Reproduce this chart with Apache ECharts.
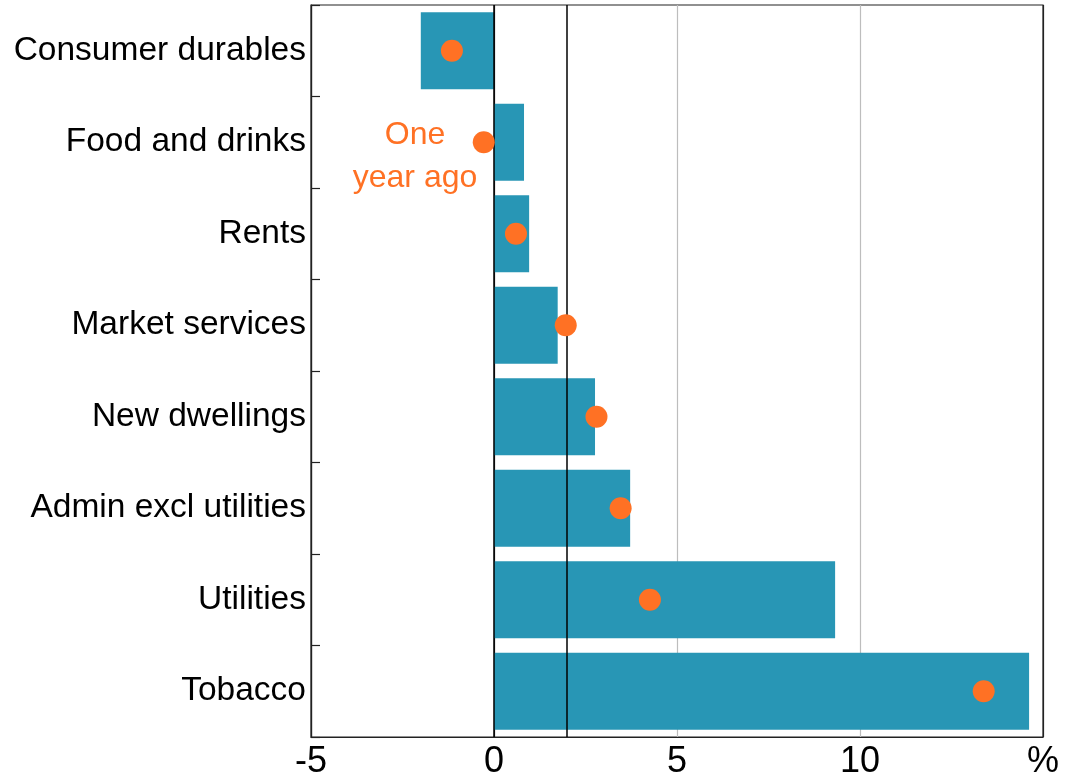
<!DOCTYPE html>
<html>
<head>
<meta charset="utf-8">
<script src="https://cdn.jsdelivr.net/npm/echarts@6/dist/echarts.min.js"></script>
<style>
html,body{margin:0;padding:0;background:#fff;}
#chart{width:1066px;height:780px;}
</style>
</head>
<body>
<div id="chart"></div>
<script>
const categories = ["Consumer durables","Food and drinks","Rents","Market services","New dwellings","Admin excl utilities","Utilities","Tobacco"];
const currentValues = [-2.0, 0.82, 0.96, 1.74, 2.76, 3.72, 9.32, 14.62];
const yearAgoValues = [-1.15, -0.28, 0.6, 1.96, 2.8, 3.46, 4.26, 13.38];
const xTicks = [-5, 0, 5, 10, 15];
const targetLine = 2;

const FONT = "Liberation Sans, Arial, sans-serif";
const TEAL = "#2896B5";
const ORANGE = "#FF7124";

const chart = echarts.init(document.getElementById('chart'), null, {renderer: 'canvas'});
chart.setOption({
  animation: false,
  backgroundColor: '#fff',
  grid: {left: 311, right: 23, top: 5, bottom: 40, show: true, borderColor: '#222', borderWidth: 1.2, containLabel: false},
  xAxis: {
    type: 'value', min: xTicks[0], max: xTicks[xTicks.length-1], interval: 5,
    axisLine: {show: true, onZero: false, lineStyle: {color: '#222', width: 1.2}},
    axisTick: {show: false},
    axisLabel: {color: '#000', fontSize: 36, fontFamily: FONT, margin: 7,
      formatter: v => v === 15 ? '%' : String(v)},
    splitLine: {show: true, lineStyle: {color: ['#222', '#222', '#bdbdbd', '#bdbdbd', '#222'], width: 1.2}}
  },
  yAxis: {
    type: 'category', data: categories, inverse: true, boundaryGap: true,
    axisLine: {show: true, onZero: false, lineStyle: {color: '#222', width: 1.2}},
    axisTick: {show: true, inside: true, length: 9, lineStyle: {color: '#222', width: 1.2}},
    axisLabel: {color: '#000', fontSize: 33.5, fontFamily: FONT, margin: 5},
    splitLine: {show: false}
  },
  series: [
    {
      type: 'bar', data: currentValues, barCategoryGap: '16%',
      itemStyle: {color: TEAL}, z: 2,
      markLine: {
        silent: true, symbol: 'none', z: 3,
        label: {show: false},
        lineStyle: {color: '#000', type: 'solid', width: 1.5},
        data: [{xAxis: 0}, {xAxis: targetLine}]
      }
    },
    {
      type: 'scatter', data: yearAgoValues, symbol: 'circle', symbolSize: 22,
      itemStyle: {color: ORANGE, opacity: 1}, z: 5
    }
  ],
  graphic: [
    {type: 'text', x: 415, y: 114, z: 10,
     style: {text: 'One\nyear ago', fill: ORANGE, font: '32px ' + FONT, align: 'center', verticalAlign: 'top', lineHeight: 43}}
  ]
});
</script>
</body>
</html>
